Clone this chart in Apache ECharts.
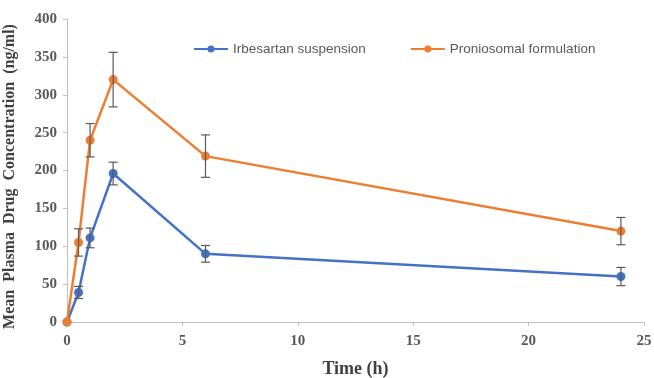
<!DOCTYPE html>
<html>
<head>
<meta charset="utf-8">
<script src="https://cdn.jsdelivr.net/npm/echarts@6/dist/echarts.min.js"></script>
<style>
  html, body { margin: 0; padding: 0; background: #fff; }
  #chart { width: 654px; height: 378px; }
</style>
</head>
<body>
<div id="chart"></div>
<script>
// Sampling times (h)
const times = [0, 0.5, 1, 2, 6, 24];
// Mean plasma concentration (ng/ml) and standard deviations
const irbesartanMean = [0, 39, 111, 196, 90, 60];
const irbesartanSD = [0, 8, 13, 15, 11, 12];
const proniosomalMean = [0, 105, 240, 320, 219, 120];
const proniosomalSD = [0, 18, 22, 36, 28, 18];
// Axis ticks
const xTicks = [0, 5, 10, 15, 20, 25];
const yTicks = [0, 50, 100, 150, 200, 250, 300, 350, 400];

const seriesNames = ['Irbesartan suspension', 'Proniosomal formulation'];
const colors = ['#4472C4', '#ED7D31'];

function pairs(xs, ys) { return xs.map((x, i) => [x, ys[i]]); }
function triples(xs, ys, es) { return xs.map((x, i) => [x, ys[i], es[i]]); }

function errorBars(params, api) {
  const x = api.value(0), y = api.value(1), e = api.value(2);
  if (!e) return null;
  const top = api.coord([x, y + e]);
  const bot = api.coord([x, y - e]);
  const hw = 4.5;
  const style = { stroke: '#595959', lineWidth: 1.2 };
  return {
    type: 'group',
    children: [
      { type: 'line', shape: { x1: top[0], y1: top[1], x2: bot[0], y2: bot[1] }, style },
      { type: 'line', shape: { x1: top[0] - hw, y1: top[1], x2: top[0] + hw, y2: top[1] }, style },
      { type: 'line', shape: { x1: bot[0] - hw, y1: bot[1], x2: bot[0] + hw, y2: bot[1] }, style }
    ]
  };
}

const axisFont = {
  fontFamily: '"Liberation Serif", "Times New Roman", serif',
  fontWeight: 'bold',
  color: '#595959'
};

const chart = echarts.init(document.getElementById('chart'), null, { renderer: 'canvas' });
chart.setOption({
  animation: false,
  backgroundColor: '#fff',
  grid: { left: 67, right: 10, top: 19, bottom: 56, containLabel: false, outerBoundsMode: 'none' },
  legend: {
    data: seriesNames,
    left: 188,
    top: 37,
    itemWidth: 34,
    itemHeight: 9,
    itemGap: 44,
    textStyle: {
      fontFamily: '"Liberation Sans", Arial, sans-serif',
      fontSize: 13.5,
      color: '#595959'
    }
  },
  xAxis: {
    type: 'value',
    min: xTicks[0],
    max: xTicks[xTicks.length - 1],
    interval: 5,
    name: 'Time (h)',
    nameLocation: 'middle',
    nameGap: 38,
    nameTextStyle: Object.assign({}, axisFont, { fontSize: 18, color: '#404040' }),
    axisLine: { lineStyle: { color: '#bfbfbf', width: 1 } },
    axisTick: { show: true, length: 4, lineStyle: { color: '#bfbfbf' } },
    axisLabel: Object.assign({}, axisFont, { fontSize: 15, margin: 12 }),
    splitLine: { show: false }
  },
  yAxis: {
    type: 'value',
    min: yTicks[0],
    max: yTicks[yTicks.length - 1],
    interval: 50,
    name: 'Mean  Plasma  Drug  Concentration  (ng/ml)',
    nameLocation: 'middle',
    nameGap: 49,
    nameTextStyle: Object.assign({}, axisFont, { fontSize: 16, color: '#404040', padding: [0, 12, 0, 0] }),
    axisLine: { show: true, lineStyle: { color: '#bfbfbf', width: 1 } },
    axisTick: { show: true, length: 4, lineStyle: { color: '#bfbfbf' } },
    axisLabel: Object.assign({}, axisFont, { fontSize: 15, margin: 10 }),
    splitLine: { show: false }
  },
  series: [
    {
      name: seriesNames[0],
      type: 'line',
      data: pairs(times, irbesartanMean),
      symbol: 'circle',
      symbolSize: 9,
      lineStyle: { color: colors[0], width: 2.5 },
      itemStyle: { color: colors[0] },
      z: 3
    },
    {
      name: seriesNames[1],
      type: 'line',
      data: pairs(times, proniosomalMean),
      symbol: 'circle',
      symbolSize: 9,
      lineStyle: { color: colors[1], width: 2.5 },
      itemStyle: { color: colors[1] },
      z: 3
    },
    {
      type: 'custom',
      renderItem: errorBars,
      data: triples(times, irbesartanMean, irbesartanSD),
      z: 4,
      silent: true
    },
    {
      type: 'custom',
      renderItem: errorBars,
      data: triples(times, proniosomalMean, proniosomalSD),
      z: 4,
      silent: true
    }
  ]
});
</script>
</body>
</html>
